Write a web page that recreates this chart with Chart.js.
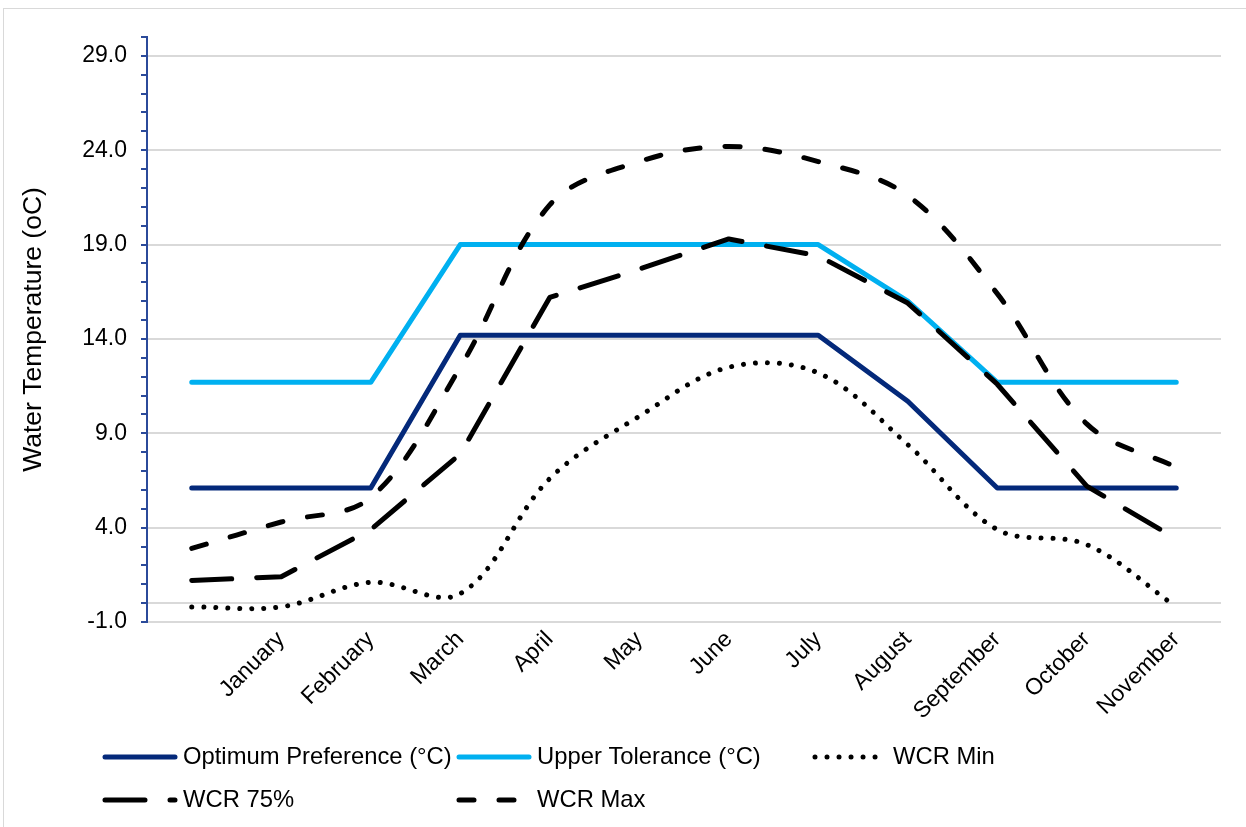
<!DOCTYPE html>
<html>
<head>
<meta charset="utf-8">
<script src="https://cdn.jsdelivr.net/npm/chart.js@4.4.1/dist/chart.umd.min.js"></script>
<style>
  html, body { margin: 0; padding: 0; background: #fff; }
  #frame { position: absolute; left: 3px; top: 8px; width: 1260px; height: 840px; border: 1px solid #d9d9d9; }
  #wrap { position: absolute; left: 0; top: 0; width: 1246px; height: 827px; }
</style>
</head>
<body>
<div id="frame"></div>
<div id="wrap"><canvas id="chart" width="1246" height="827"></canvas></div>
<script>
// first slot has no label in the original sheet
const months = ['', 'January', 'February', 'March', 'April', 'May', 'June',
  'July', 'August', 'September', 'October', 'November'];

const optimum = [6.1, 6.1, 6.1, 14.2, 14.2, 14.2, 14.2, 14.2, 10.7, 6.1, 6.1, 6.1];
const upperTol = [11.7, 11.7, 11.7, 19.0, 19.0, 19.0, 19.0, 19.0, 16.0, 11.7, 11.7, 11.7];
const wcrMin = [-0.2, -0.2, 1.1, 0.5, 6.6, 9.9, 12.5, 12.2, 8.4, 3.9, 3.1, -0.2];
const wcr75 = [1.2, 1.4, 3.9, 7.9, 16.2, 17.7, 19.3, 18.4, 15.9, 11.6, 6.2, 3.4];
const wcrMax = [2.9, 4.3, 5.6, 12.5, 21.1, 23.4, 24.2, 23.4, 21.6, 16.4, 9.5, 7.2];

const yTicksMin = -1;
const yTicksMax = 30;

const navy = '#04297A';
const skyBlue = '#00B0F0';
const axisBlue = '#2B4A9A';
const gridGrey = '#D9D9D9';
const fontFamily = '"Liberation Sans", Arial, sans-serif';

Chart.defaults.font.family = fontFamily;
Chart.defaults.color = '#000';

// legend is laid out in fixed columns like the excel one
const legendSpots = [
  { x: 105, y: 757 }, { x: 459, y: 757 }, { x: 815, y: 757 },
  { x: 105, y: 800 }, { x: 459, y: 800 },
];
const sampleLen = 70;

const columnLegend = {
  id: 'columnLegend',
  afterDraw(chart) {
    const ctx = chart.ctx;
    chart.data.datasets.forEach((ds, i) => {
      const spot = legendSpots[i];
      ctx.save();
      ctx.strokeStyle = ds.borderColor;
      ctx.lineWidth = ds.borderWidth;
      ctx.lineCap = 'round';
      ctx.setLineDash(ds.borderDash || []);
      ctx.beginPath();
      ctx.moveTo(spot.x, spot.y);
      ctx.lineTo(spot.x + sampleLen, spot.y);
      ctx.stroke();
      ctx.setLineDash([]);
      ctx.fillStyle = '#000';
      ctx.font = '23.8px ' + fontFamily;
      ctx.textBaseline = 'middle';
      ctx.fillText(ds.label, spot.x + sampleLen + 8, spot.y);
      ctx.restore();
    });
  },
};

const common = { pointRadius: 0, pointHoverRadius: 0, borderWidth: 5, borderCapStyle: 'round', borderJoinStyle: 'round', fill: false };

new Chart(document.getElementById('chart'), {
  type: 'line',
  data: {
    labels: months,
    datasets: [
      { ...common, label: 'Optimum Preference (°C)', data: optimum, borderColor: navy, order: 5 },
      { ...common, label: 'Upper Tolerance (°C)', data: upperTol, borderColor: skyBlue, order: 4 },
      { ...common, label: 'WCR Min', data: wcrMin, borderColor: '#000', borderDash: [0.01, 12], tension: 0.35, order: 3 },
      { ...common, label: 'WCR 75%', data: wcr75, borderColor: '#000', borderDash: [40, 25], order: 2 },
      { ...common, label: 'WCR Max', data: wcrMax, borderColor: '#000', borderDash: [15, 25], tension: 0.35, order: 1 },
    ],
  },
  options: {
    responsive: false,
    animation: false,
    layout: { padding: { left: 0, top: 37, right: 25, bottom: 95 } },
    plugins: { legend: { display: false }, tooltip: { enabled: false } },
    scales: {
      x: {
        type: 'category',
        offset: true,
        afterFit(scale) { scale.height = 110; },
        grid: { display: false, drawTicks: false },
        border: { display: false },
        ticks: { autoSkip: false, maxRotation: 45, minRotation: 45, padding: 4, font: { size: 23 } },
      },
      y: {
        min: yTicksMin,
        max: yTicksMax,
        afterFit(scale) { scale.width = 147; },
        border: { color: axisBlue, width: 2 },
        grid: {
          // majors every 5 from -1, plus the category axis line at 0
          color: (c) => ((c.tick.value + 1) % 5 === 0 || c.tick.value === 0 ? gridGrey : 'rgba(0,0,0,0)'),
          lineWidth: 2,
          tickLength: 6,
          tickColor: axisBlue,
          tickWidth: 2,
        },
        ticks: {
          stepSize: 1,
          autoSkip: false,
          padding: 14,
          font: { size: 23 },
          callback: (v) => ((v + 1) % 5 === 0 ? v.toFixed(1) : ''),
        },
        title: {
          display: true,
          text: 'Water Temperature (oC)',
          font: { size: 26.5 },
          padding: { top: 18, bottom: 0 },
        },
      },
    },
  },
  plugins: [columnLegend],
});
</script>
</body>
</html>
